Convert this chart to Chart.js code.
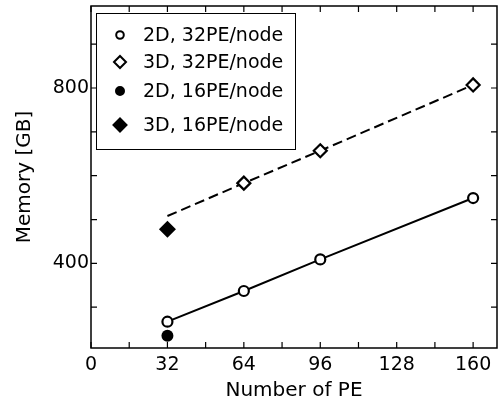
<!DOCTYPE html>
<html>
<head>
<meta charset="utf-8">
<script src="https://cdn.jsdelivr.net/npm/chart.js@4.4.1/dist/chart.umd.min.js"></script>
<style>
html, body { margin: 0; padding: 0; background: #fff; }
#wrap { width: 499px; height: 405px; }
</style>
</head>
<body>
<div id="wrap"><canvas id="memChart"></canvas></div>
<script>
// values
const peCounts = [32, 64, 96, 160];
const mem2d32 = [267, 337, 409, 549];
const mem3d32 = [508, 583, 657, 807];   // first point is where the dashed fit starts (no marker)
const pe16 = [32];
const mem2d16 = [235];
const mem3d16 = [478];

const seriesLabels = ['2D, 32PE/node', '3D, 32PE/node', '2D, 16PE/node', '3D, 16PE/node'];
const xTicks = [0, 32, 64, 96, 128, 160];
const xMinor = [16, 48, 80, 112, 144];
const yTicks = [400, 800];
const yMinor = [300, 500, 600, 700, 900];

const FONT = 'DejaVu Sans';

function toPoints(xs, ys) {
    return xs.map((x, i) => ({ x: x, y: ys[i] }));
}

// frame, inward ticks and the boxed legend
const framePlugin = {
    id: 'frame',
    afterDraw(chart) {
        const ctx = chart.ctx;
        const a = chart.chartArea;
        const xs = chart.scales.x;
        const ys = chart.scales.y;
        ctx.save();
        ctx.strokeStyle = '#000';
        ctx.lineWidth = 1.5;
        ctx.strokeRect(a.left, a.top, a.right - a.left, a.bottom - a.top);

        ctx.lineWidth = 1.2;
        ctx.beginPath();
        xTicks.concat(xMinor).forEach(v => {
            const px = xs.getPixelForValue(v);
            ctx.moveTo(px, a.bottom); ctx.lineTo(px, a.bottom - 6);
            ctx.moveTo(px, a.top); ctx.lineTo(px, a.top + 6);
        });
        yTicks.concat(yMinor).forEach(v => {
            const py = ys.getPixelForValue(v);
            ctx.moveTo(a.left, py); ctx.lineTo(a.left + 6, py);
            ctx.moveTo(a.right, py); ctx.lineTo(a.right - 6, py);
        });
        ctx.stroke();

        // legend box
        const bx = 96, by = 13, bw = 199, bh = 136;
        ctx.fillStyle = '#fff';
        ctx.fillRect(bx, by, bw, bh);
        ctx.lineWidth = 1;
        ctx.strokeRect(bx + 0.5, by + 0.5, bw, bh);

        const rowY = [35, 62, 91, 125];
        const marks = [
            { pointStyle: 'circle', radius: 3.8, fill: '#fff' },
            { pointStyle: 'rectRot', radius: 6, fill: '#fff' },
            { pointStyle: 'circle', radius: 4, fill: '#000' },
            { pointStyle: 'rectRot', radius: 6.5, fill: '#000' }
        ];
        ctx.font = '19px "' + FONT + '"';
        ctx.textBaseline = 'middle';
        ctx.textAlign = 'left';
        seriesLabels.forEach((label, i) => {
            const m = marks[i];
            ctx.fillStyle = m.fill;
            ctx.strokeStyle = '#000';
            ctx.lineWidth = 2;
            Chart.helpers.drawPoint(ctx, { pointStyle: m.pointStyle, radius: m.radius, rotation: 0, borderWidth: 2 }, 120, rowY[i]);
            ctx.fillStyle = '#000';
            ctx.fillText(label, 143, rowY[i] + 1);
        });
        ctx.restore();
    }
};

const ctx = document.getElementById('memChart').getContext('2d');

const memChart = new Chart(ctx, {
    type: 'scatter',
    data: {
        datasets: [
            {
                label: seriesLabels[0],
                data: toPoints(peCounts, mem2d32),
                showLine: true,
                borderColor: '#000',
                borderWidth: 2,
                pointStyle: 'circle',
                pointRadius: 5,
                pointBorderWidth: 2.2,
                pointBackgroundColor: '#fff',
                pointBorderColor: '#000'
            },
            {
                label: seriesLabels[1],
                data: toPoints(peCounts, mem3d32),
                showLine: true,
                borderColor: '#000',
                borderWidth: 2,
                borderDash: [10, 5],
                pointStyle: 'rectRot',
                pointRadius: [0, 6.5, 6.5, 6.5],
                pointBorderWidth: 2.2,
                pointBackgroundColor: '#fff',
                pointBorderColor: '#000'
            },
            {
                label: seriesLabels[2],
                data: toPoints(pe16, mem2d16),
                pointStyle: 'circle',
                pointRadius: 6,
                pointBorderWidth: 0,
                pointBackgroundColor: '#000',
                pointBorderColor: '#000'
            },
            {
                label: seriesLabels[3],
                data: toPoints(pe16, mem3d16),
                pointStyle: 'rectRot',
                pointRadius: 8.5,
                pointBorderWidth: 0,
                pointBackgroundColor: '#000',
                pointBorderColor: '#000'
            }
        ]
    },
    options: {
        responsive: true,
        maintainAspectRatio: false,
        animation: false,
        layout: {
            autoPadding: false,
            padding: { top: 6, right: 2, left: 0, bottom: 0 }
        },
        plugins: {
            legend: { display: false },
            tooltip: { enabled: false }
        },
        scales: {
            x: {
                type: 'linear',
                min: 0,
                max: 170,
                afterBuildTicks: scale => { scale.ticks = xTicks.map(v => ({ value: v })); },
                afterFit: scale => {
                    scale.height = 57;
                    scale.paddingLeft = 0;
                    scale.paddingRight = 0;
                },
                grid: { display: false, drawTicks: false },
                border: { display: false },
                ticks: {
                    color: '#000',
                    padding: 6,
                    maxRotation: 0,
                    font: { family: FONT, size: 19 }
                },
                title: {
                    display: true,
                    text: 'Number of PE',
                    color: '#000',
                    padding: { top: 0, bottom: 2 },
                    font: { family: FONT, size: 20 }
                }
            },
            y: {
                type: 'linear',
                min: 207,
                max: 987,
                afterBuildTicks: scale => { scale.ticks = yTicks.map(v => ({ value: v })); },
                afterFit: scale => {
                    scale.width = 91;
                    scale.paddingTop = 0;
                    scale.paddingBottom = 0;
                },
                grid: { display: false, drawTicks: false },
                border: { display: false },
                ticks: {
                    color: '#000',
                    padding: 2,
                    font: { family: FONT, size: 19 }
                },
                title: {
                    display: true,
                    text: 'Memory [GB]',
                    color: '#000',
                    padding: { top: 13, bottom: 0 },
                    font: { family: FONT, size: 20 }
                }
            }
        }
    },
    plugins: [framePlugin]
});
</script>
</body>
</html>
